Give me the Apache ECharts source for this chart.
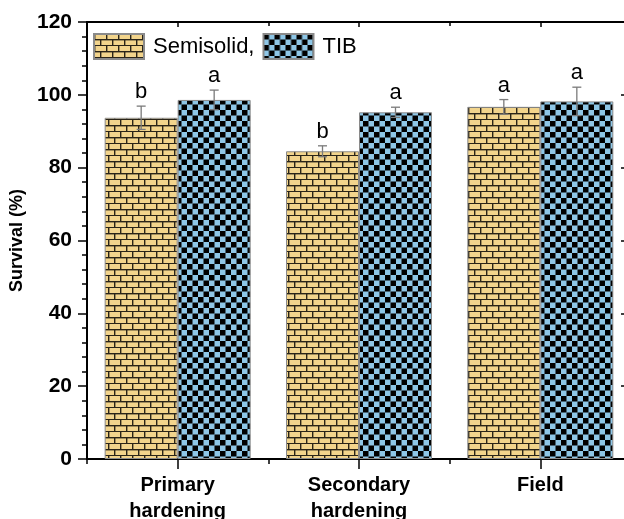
<!DOCTYPE html>
<html>
<head>
<meta charset="utf-8">
<script src="https://cdn.jsdelivr.net/npm/echarts@6/dist/echarts.min.js"></script>
<style>
html,body{margin:0;padding:0;background:#fff;}
#chart{width:624px;height:519px;}
</style>
</head>
<body>
<div id="chart"></div>
<script>
// ---- data ----
var categories = ['Primary\nhardening', 'Secondary\nhardening', 'Field'];
var seriesNames = ['Semisolid,', 'TIB'];
var semisolidMean = [93.7, 84.5, 96.7];
var semisolidErr = [3.2, 1.5, 2.0];
var semisolidLetters = ['b', 'b', 'a'];
var tibMean = [98.6, 95.2, 98.2];
var tibErr = [2.7, 1.4, 3.9];
var tibLetters = ['a', 'a', 'a'];
var yTicks = [0, 20, 40, 60, 80, 100, 120];

// ---- styles ----
var FONT = '"Liberation Sans", Arial, sans-serif';
var BAR_W = 73;

function brickPattern() {
  var c = document.createElement('canvas');
  c.width = 12; c.height = 12;
  var g = c.getContext('2d');
  g.fillStyle = '#F2D48C'; g.fillRect(0, 0, 12, 12);
  g.fillStyle = '#2a2418';
  g.fillRect(0, 5, 12, 1.4);
  g.fillRect(0, 11, 12, 1.4);
  g.fillRect(0, 0, 1.4, 5);
  g.fillRect(6, 6, 1.4, 5);
  return { image: c, repeat: 'repeat' };
}
function checkerPattern() {
  var c = document.createElement('canvas');
  c.width = 11; c.height = 11;
  var g = c.getContext('2d');
  g.fillStyle = '#8EC6E6'; g.fillRect(0, 0, 11, 11);
  g.fillStyle = '#000000';
  g.fillRect(0, 0, 5.5, 5.5);
  g.fillRect(5.5, 5.5, 5.5, 5.5);
  return { image: c, repeat: 'repeat' };
}

function errData(means, errs) {
  return means.map(function (m, i) { return [i, m, errs[i]]; });
}
var errLetters = [semisolidLetters, tibLetters];

function errRender(sign) {
  return function (params, api) {
    var idx = api.value(0), m = api.value(1), e = api.value(2);
    var letter = errLetters[params.seriesIndex - 2][params.dataIndex];
    var top = api.coord([idx, m + e]);
    var bot = api.coord([idx, m - e]);
    var x = top[0] + sign * BAR_W / 2;
    var cap = 4.5;
    var st = { stroke: '#7a7a7a', lineWidth: 1.3 };
    return {
      type: 'group',
      children: [
        { type: 'line', shape: { x1: x, y1: top[1], x2: x, y2: bot[1] }, style: st },
        { type: 'line', shape: { x1: x - cap, y1: top[1], x2: x + cap, y2: top[1] }, style: st },
        { type: 'line', shape: { x1: x - cap, y1: bot[1], x2: x + cap, y2: bot[1] }, style: st },
        { type: 'text', x: x, y: top[1] - 3,
          style: { text: letter, fill: '#000', font: '22px ' + FONT, textAlign: 'center', textVerticalAlign: 'bottom' } }
      ]
    };
  };
}

var chart = echarts.init(document.getElementById('chart'), null, { renderer: 'canvas' });
var axisLineStyle = { color: '#000', width: 2 };

var option = {
  animation: false,
  backgroundColor: '#fff',
  grid: { left: 87, top: 22, width: 544, height: 437, containLabel: false, outerBoundsMode: 'none' },
  legend: {
    data: seriesNames,
    left: 93, top: 33, padding: 0,
    itemWidth: 50, itemHeight: 25, itemGap: 8,
    icon: 'rect',
    textStyle: { fontFamily: FONT, fontSize: 22, color: '#000', padding: [0, 0, 0, 4] }
  },
  xAxis: [
    { type: 'category', data: categories, position: 'bottom',
      axisLine: { lineStyle: axisLineStyle },
      axisTick: { show: true, alignWithLabel: true, inside: false, length: 10, lineStyle: { color: '#000', width: 1.5 } },
      axisLabel: { fontFamily: FONT, fontSize: 20, fontWeight: 'bold', color: '#000', margin: 13, lineHeight: 26 },
      splitLine: { show: false } },
    { type: 'value', min: 0.5, max: 3.5, interval: 1, position: 'bottom',
      axisLine: { show: false }, axisLabel: { show: false },
      axisTick: { show: true, inside: false, length: 5, lineStyle: { color: '#000', width: 1.5 } },
      splitLine: { show: false } },
    { type: 'category', data: categories, position: 'top',
      axisLine: { lineStyle: axisLineStyle },
      axisTick: { show: true, alignWithLabel: true, inside: true, length: 5, lineStyle: { color: '#000', width: 1.5 } },
      axisLabel: { show: false }, splitLine: { show: false } },
    { type: 'value', min: 0.5, max: 3.5, interval: 1, position: 'top',
      axisLine: { show: false }, axisLabel: { show: false },
      axisTick: { show: true, inside: true, length: 4, lineStyle: { color: '#000', width: 1.5 } },
      splitLine: { show: false } }
  ],
  yAxis: [
    { type: 'value', min: yTicks[0], max: yTicks[yTicks.length - 1], interval: yTicks[1] - yTicks[0], position: 'left',
      name: 'Survival (%)', nameLocation: 'middle', nameGap: 57, nameRotate: 90,
      nameTextStyle: { fontFamily: FONT, fontSize: 18, fontWeight: 'bold', color: '#000' },
      axisLine: { show: true, lineStyle: axisLineStyle },
      axisTick: { show: true, inside: false, length: 9, lineStyle: { color: '#000', width: 1.5 } },
      minorTick: { show: true, splitNumber: 5, length: 5, lineStyle: { color: '#000', width: 1.5 } },
      axisLabel: { fontFamily: FONT, fontSize: 21, fontWeight: 'bold', color: '#000', margin: 15 },
      splitLine: { show: false } },
    { type: 'value', min: yTicks[0], max: yTicks[yTicks.length - 1], interval: yTicks[1] - yTicks[0], position: 'right',
      axisLine: { show: true, lineStyle: axisLineStyle },
      axisTick: { show: true, inside: true, length: 10, lineStyle: { color: '#000', width: 1.5 } },
      axisLabel: { show: false }, splitLine: { show: false } }
  ],
  series: [
    { name: seriesNames[0], type: 'bar', xAxisIndex: 0, yAxisIndex: 0, data: semisolidMean,
      barWidth: BAR_W, barGap: '0%',
      itemStyle: { color: brickPattern(), borderColor: '#8a8a8a', borderWidth: 1 } },
    { name: seriesNames[1], type: 'bar', xAxisIndex: 0, yAxisIndex: 0, data: tibMean,
      barWidth: BAR_W, barGap: '0%',
      itemStyle: { color: checkerPattern(), borderColor: '#8a8a8a', borderWidth: 1 } },
    { type: 'custom', xAxisIndex: 0, yAxisIndex: 0, z: 5, data: errData(semisolidMean, semisolidErr),
      encode: { x: 0, y: 1 }, renderItem: errRender(-1) },
    { type: 'custom', xAxisIndex: 0, yAxisIndex: 0, z: 5, data: errData(tibMean, tibErr),
      encode: { x: 0, y: 1 }, renderItem: errRender(1) }
  ]
};
chart.setOption(option);
</script>
</body>
</html>
